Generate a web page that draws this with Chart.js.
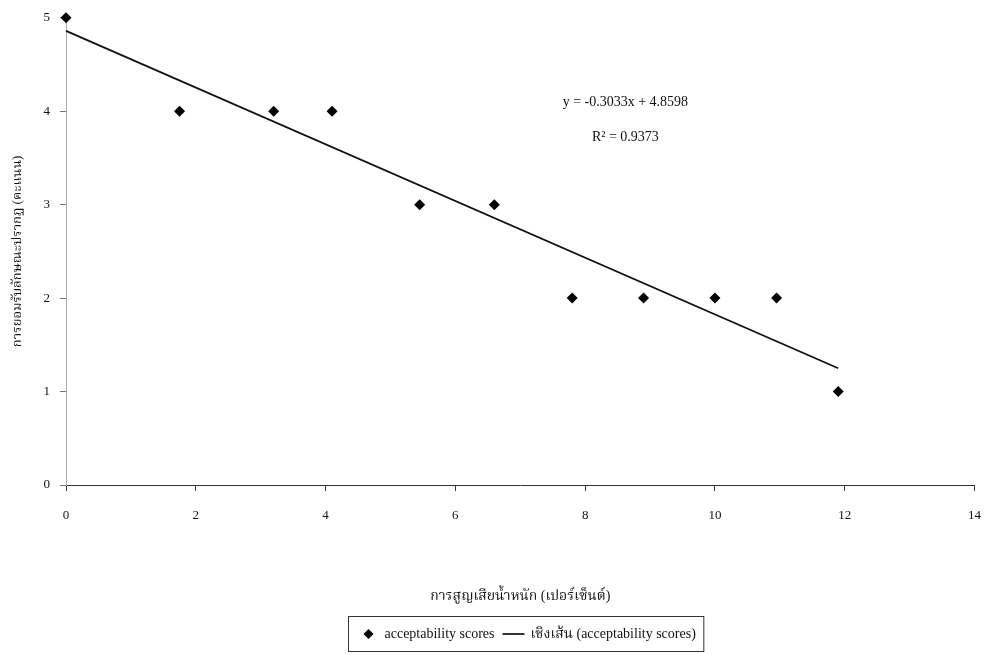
<!DOCTYPE html>
<html>
<head>
<meta charset="utf-8">
<script src="https://cdn.jsdelivr.net/npm/chart.js@4/dist/chart.umd.min.js"></script>
<style>
  html, body { margin: 0; padding: 0; background: #fff; }
  #wrap { width: 998px; height: 655px; }
</style>
</head>
<body>
<div id="wrap"><canvas id="chart" width="998" height="655"></canvas></div>
<script>
// weight loss (%) vs appearance acceptability score
const weightLoss = [0, 1.75, 3.2, 4.1, 5.45, 6.6, 7.8, 8.9, 10.0, 10.95, 11.9];
const scores = [5, 4, 4, 4, 3, 3, 2, 2, 2, 2, 1];

// linear trendline end points, as drawn
const trendX = [0, 11.9];
const trendY = [4.86, 1.25];

const xTicks = [0, 2, 4, 6, 8, 10, 12, 14];
const yTicks = [0, 1, 2, 3, 4, 5];

const equationText = 'y = -0.3033x + 4.8598';
const r2Text = 'R\u00B2 = 0.9373';

const serif = "'Liberation Serif', 'Times New Roman', 'Noto Serif Thai', 'Noto Sans Thai', serif";

// equation + R² text placed in data units
const annotationPlugin = {
  id: 'annotation',
  afterDatasetsDraw(chart) {
    const { ctx, scales } = chart;
    ctx.save();
    ctx.fillStyle = '#111';
    ctx.font = '14px ' + serif;
    ctx.textAlign = 'center';
    ctx.textBaseline = 'middle';
    ctx.fillText(equationText, scales.x.getPixelForValue(8.62), scales.y.getPixelForValue(4.1));
    ctx.fillText(r2Text, scales.x.getPixelForValue(8.62), scales.y.getPixelForValue(3.72));
    ctx.restore();
  }
};

// boxed legend under the x-axis title
const boxLegendPlugin = {
  id: 'boxLegend',
  afterDraw(chart) {
    const { ctx } = chart;
    const ds = chart.data.datasets;
    ctx.save();
    ctx.font = '14px ' + serif;
    ctx.textBaseline = 'middle';
    const w1 = ctx.measureText(ds[0].label).width;
    const w2 = ctx.measureText(ds[1].label).width;
    const total = 20 + 16 + w1 + 8 + 22 + 6 + w2 + 8;
    const cx = 526;
    const left = Math.round(cx - total / 2) + 0.5;
    const top = 616.5, h = 35, mid = top + h / 2;

    ctx.strokeStyle = '#333';
    ctx.lineWidth = 1;
    ctx.strokeRect(left, top, total, h);

    // diamond marker
    let x = left + 20;
    ctx.fillStyle = '#000';
    ctx.beginPath();
    ctx.moveTo(x, mid - 5);
    ctx.lineTo(x + 5, mid);
    ctx.lineTo(x, mid + 5);
    ctx.lineTo(x - 5, mid);
    ctx.closePath();
    ctx.fill();

    x += 16;
    ctx.fillStyle = '#111';
    ctx.fillText(ds[0].label, x, mid);
    x += w1 + 8;

    ctx.strokeStyle = '#000';
    ctx.lineWidth = 1.6;
    ctx.beginPath();
    ctx.moveTo(x, mid);
    ctx.lineTo(x + 22, mid);
    ctx.stroke();
    x += 28;
    ctx.fillText(ds[1].label, x, mid);
    ctx.restore();
  }
};

new Chart(document.getElementById('chart'), {
  type: 'scatter',
  data: {
    datasets: [
      {
        label: 'acceptability scores',
        data: weightLoss.map((v, i) => ({ x: v, y: scores[i] })),
        pointStyle: 'rectRot',
        pointRadius: 5.5,
        pointHoverRadius: 5.5,
        backgroundColor: '#000',
        borderColor: '#000',
        borderWidth: 0,
        showLine: false,
        clip: false,
        order: 1,
      },
      {
        label: 'เชิงเส้น (acceptability scores)',
        data: trendX.map((v, i) => ({ x: v, y: trendY[i] })),
        showLine: true,
        borderColor: '#111',
        borderWidth: 1.8,
        pointRadius: 0,
        fill: false,
        tension: 0,
        clip: false,
        order: 2,
      },
    ],
  },
  options: {
    responsive: false,
    animation: false,
    layout: { padding: { top: 17, right: 14, bottom: 46, left: 0 } },
    plugins: {
      legend: { display: false },
      tooltip: { enabled: false },
    },
    scales: {
      x: {
        type: 'linear',
        min: 0,
        max: 14,
        afterFit: (scale) => { scale.height = 124; },
        afterBuildTicks: (scale) => { scale.ticks = xTicks.map(v => ({ value: v })); },
        border: { display: true, color: '#333', width: 1 },
        grid: { drawOnChartArea: false, drawTicks: true, tickLength: 6, color: '#333' },
        ticks: {
          padding: 17,
          color: '#111',
          font: { family: serif, size: 13 },
          maxRotation: 0,
        },
        title: {
          display: true,
          text: 'การสูญเสียน้ำหนัก (เปอร์เซ็นต์)',
          color: '#111',
          font: { family: serif, size: 14 },
          padding: { top: 0, bottom: 4 },
        },
      },
      y: {
        type: 'linear',
        min: 0,
        max: 5,
        afterFit: (scale) => { scale.width = 66; },
        afterBuildTicks: (scale) => { scale.ticks = yTicks.map(v => ({ value: v })); },
        border: { display: true, color: '#aaa', width: 1, dash: [1, 4] },
        grid: { drawOnChartArea: false, drawTicks: true, tickLength: 6, color: '#777' },
        ticks: {
          padding: 10,
          color: '#111',
          font: { family: serif, size: 13 },
        },
        title: {
          display: true,
          text: 'การยอมรับลักษณะปรากฏ (คะแนน)',
          color: '#111',
          font: { family: serif, size: 13 },
          padding: { top: 10, bottom: 0 },
        },
      },
    },
  },
  plugins: [annotationPlugin, boxLegendPlugin],
});
</script>
</body>
</html>
